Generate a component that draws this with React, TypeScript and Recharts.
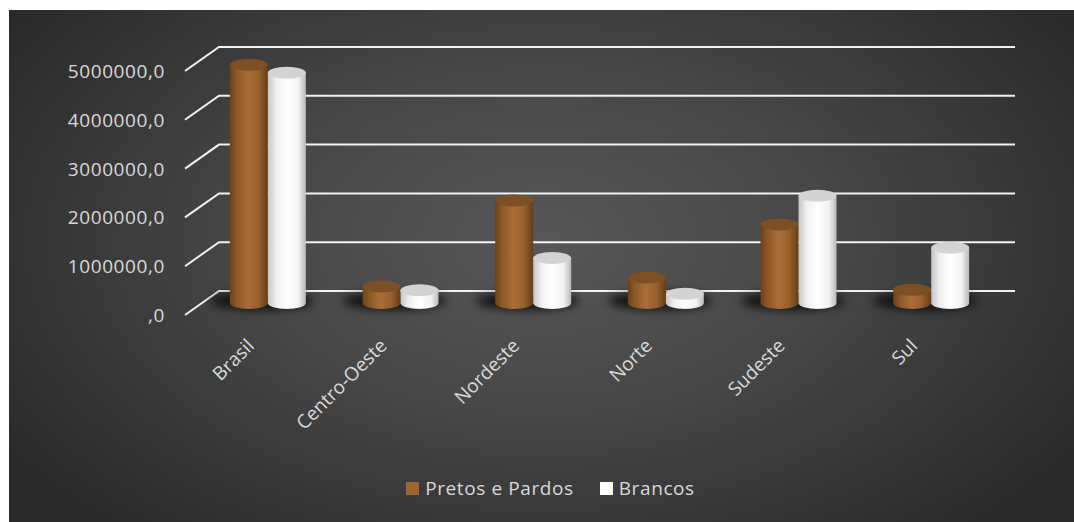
import React from "react";
import { BarChart, Bar, XAxis, YAxis, CartesianGrid, Legend } from "recharts";

// regiões e valores
const regioes = ["Brasil", "Centro-Oeste", "Nordeste", "Norte", "Sudeste", "Sul"];
const pretosPardos = [4880000, 340000, 2100000, 520000, 1610000, 270000];
const brancos = [4720000, 260000, 920000, 190000, 2200000, 1130000];
const yTicks = [0, 1000000, 2000000, 3000000, 4000000, 5000000];

const data = regioes.map((regiao, i) => ({
  regiao,
  pretos: pretosPardos[i],
  brancos: brancos[i],
}));

// deslocamento 3D (parede do fundo)
const DX = 34;
const DY = -24;
const FONT = "'Open Sans', sans-serif";
const TXT = "#d9d9d9";

const fmt = (v: number) => (v === 0 ? ",0" : `${v},0`);

function Cylinder(props: any) {
  const { x, y, width, height, dataKey } = props;
  const X = x + DX / 2;
  const top = y + DY / 2;
  const bottom = y + height + DY / 2;
  const rx = width / 2;
  const ry = 6;
  const isBrown = dataKey === "pretos";
  return (
    <g>
      {isBrown && (
        <ellipse
          cx={X + width - 6}
          cy={bottom - 2}
          rx={width * 1.35}
          ry={9}
          fill="#000"
          opacity={0.75}
          filter="url(#sombra)"
        />
      )}
      <path
        d={`M${X},${top} L${X},${bottom} A${rx},${ry} 0 0 0 ${X + width},${bottom} L${X + width},${top} Z`}
        fill={isBrown ? "url(#gradMarrom)" : "url(#gradBranco)"}
      />
      <ellipse cx={X + rx} cy={top} rx={rx} ry={ry} fill={isBrown ? "#7c4f24" : "#d3d3d3"} />
    </g>
  );
}

function GridLine(props: any) {
  const { x1, y1, x2 } = props;
  return (
    <path
      d={`M${x1},${y1} L${x1 + DX},${y1 + DY} L${x2 + DX},${y1 + DY}`}
      stroke="#f2f2f2"
      strokeWidth={2}
      fill="none"
    />
  );
}

function YTick(props: any) {
  const { x, y, payload } = props;
  return (
    <text x={x} y={y} dy={7} textAnchor="end" fill={TXT} fontSize={19} fontFamily={FONT} letterSpacing={0.6}>
      {fmt(payload.value)}
    </text>
  );
}

function XTick(props: any) {
  const { x, y, payload } = props;
  const tx = x + 4;
  return (
    <text
      x={tx}
      y={y}
      textAnchor="end"
      fill={TXT}
      fontSize={19}
      fontFamily={FONT}
      transform={`rotate(-45, ${tx}, ${y})`}
    >
      {payload.value}
    </text>
  );
}

function LegendContent() {
  const item = (color: string, label: string, mr: number) => (
    <span style={{ display: "inline-flex", alignItems: "center", marginRight: mr }}>
      <span style={{ width: 13, height: 13, background: color, display: "inline-block", marginRight: 6 }} />
      <span style={{ color: TXT, fontSize: 19, fontFamily: FONT, letterSpacing: 0.6 }}>{label}</span>
    </span>
  );
  return (
    <div style={{ display: "flex", justifyContent: "center", paddingLeft: 18, paddingTop: 10 }}>
      {item("#a0652f", "Pretos e Pardos", 26)}
      {item("#ffffff", "Brancos", 0)}
    </div>
  );
}

export default function App() {
  return (
    <div style={{ position: "absolute", left: 0, top: 0, width: 1074, height: 522, background: "#fff" }}>
      <div
        style={{
          position: "absolute",
          left: 9,
          top: 10,
          width: 1065,
          height: 512,
          background: "radial-gradient(ellipse 60% 75% at 50% 45%, #575757 0%, #474747 45%, #2a2a2a 100%)",
        }}
      >
        <BarChart
          width={1065}
          height={512}
          data={data}
          margin={{ top: 61, right: 93, bottom: 17, left: 0 }}
          barCategoryGap="21%"
          barGap={0}
        >
          <defs>
            <linearGradient id="gradMarrom" x1="0" y1="0" x2="1" y2="0">
              <stop offset="0%" stopColor="#6c4219" />
              <stop offset="18%" stopColor="#8c5827" />
              <stop offset="48%" stopColor="#a96e37" />
              <stop offset="75%" stopColor="#98602c" />
              <stop offset="100%" stopColor="#653d16" />
            </linearGradient>
            <linearGradient id="gradBranco" x1="0" y1="0" x2="1" y2="0">
              <stop offset="0%" stopColor="#c4c4c4" />
              <stop offset="22%" stopColor="#f0f0f0" />
              <stop offset="50%" stopColor="#ffffff" />
              <stop offset="80%" stopColor="#f2f2f2" />
              <stop offset="100%" stopColor="#b8b8b8" />
            </linearGradient>
            <filter id="sombra" x="-50%" y="-200%" width="200%" height="500%">
              <feGaussianBlur stdDeviation="5" />
            </filter>
          </defs>
          <CartesianGrid vertical={false} horizontal={(p: any) => <GridLine key={p.key} {...p} />} />
          <XAxis
            dataKey="regiao"
            axisLine={false}
            tickLine={false}
            tick={<XTick />}
            tickMargin={26}
            height={150}
            interval={0}
          />
          <YAxis
            domain={[0, 5000000]}
            ticks={yTicks}
            axisLine={false}
            tickLine={false}
            tickSize={6}
            tickMargin={14}
            width={176}
            tick={<YTick />}
          />
          <Legend verticalAlign="bottom" height={40} wrapperStyle={{ left: 0, width: 1065 }} content={<LegendContent />} />
          <Bar dataKey="pretos" name="Pretos e Pardos" fill="#a0652f" shape={<Cylinder dataKey="pretos" />} isAnimationActive={false} />
          <Bar dataKey="brancos" name="Brancos" fill="#ffffff" shape={<Cylinder dataKey="brancos" />} isAnimationActive={false} />
        </BarChart>
      </div>
    </div>
  );
}
